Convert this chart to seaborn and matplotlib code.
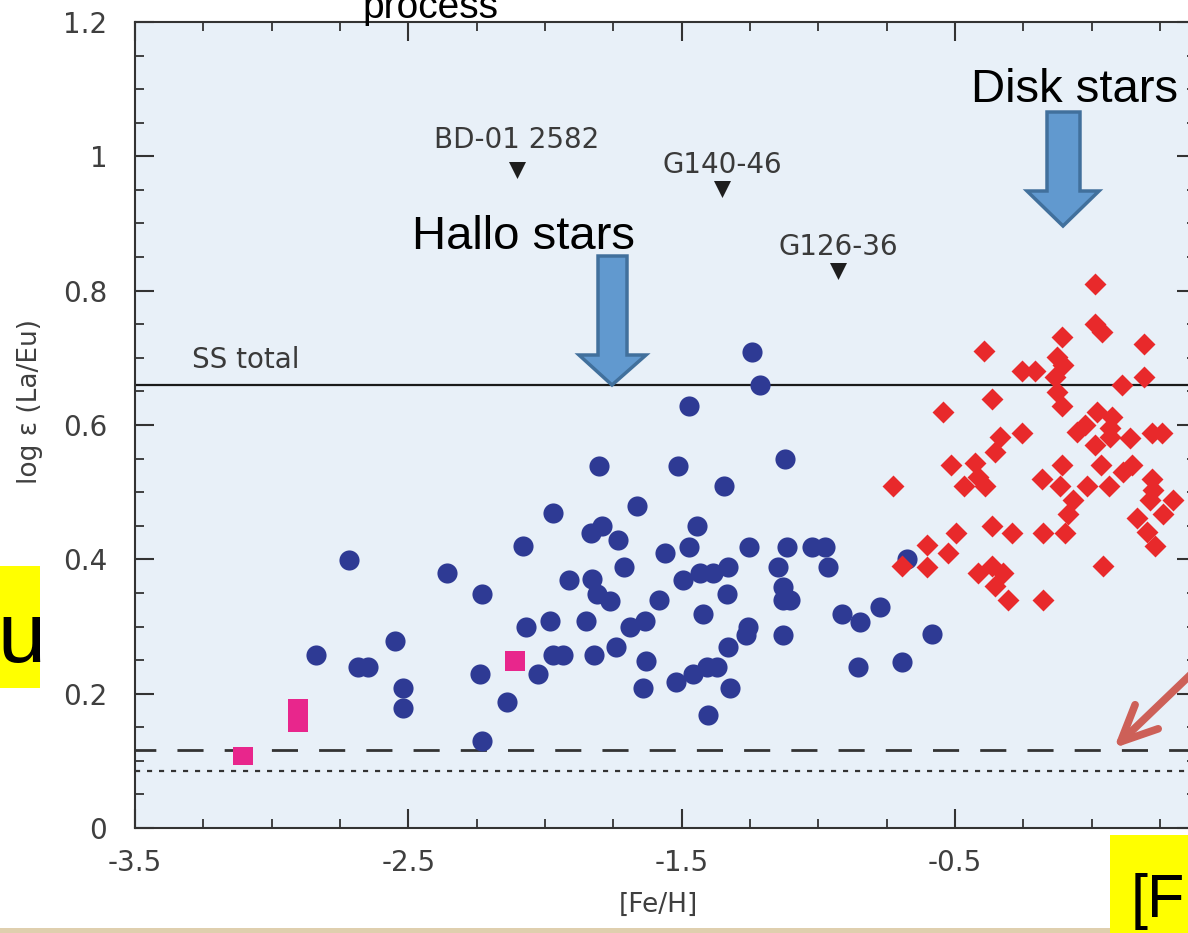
import numpy as np
import pandas as pd
import matplotlib
matplotlib.use("Agg")
import matplotlib.pyplot as plt
import seaborn as sns
from matplotlib.patches import Rectangle, Polygon, FancyArrowPatch
from matplotlib.ticker import MultipleLocator

# ---------------- data ----------------
halo_feh = [-2.716, -2.360, -2.229, -2.079, -2.070, -2.549, -2.838, -2.683, -2.646, -2.518,
            -2.518, -2.238, -2.140, -2.024, -2.229,
            -1.244, -1.213, -1.473, -1.801, -1.512, -1.122, -1.344, -1.969, -1.662, -1.792,
            -1.833, -1.732, -1.443, -1.561, -1.473, -1.252, -1.113,
            -1.711, -1.911, -1.829, -1.811, -1.762, -1.582, -1.494, -1.433, -1.384, -1.331,
            -1.333, -1.146, -1.128, -1.128, -1.104, -1.128, -1.423, -1.256, -1.264, -1.331,
            -1.982, -1.850, -1.634, -1.689, -1.969, -1.933, -1.819, -1.740, -1.631, -1.640,
            -1.521, -1.459, -1.408, -1.372, -1.323, -1.402,
            -1.024, -0.975, -0.963, -0.914, -0.847, -0.774, -0.853, -0.695, -0.585, -0.676]
halo_laeu = [0.399, 0.379, 0.348, 0.420, 0.299, 0.278, 0.258, 0.239, 0.239, 0.209,
             0.179, 0.229, 0.188, 0.229, 0.129,
             0.709, 0.659, 0.629, 0.539, 0.539, 0.550, 0.509, 0.469, 0.479, 0.449,
             0.439, 0.429, 0.449, 0.410, 0.419, 0.419, 0.419,
             0.389, 0.369, 0.370, 0.348, 0.338, 0.339, 0.369, 0.379, 0.379, 0.389,
             0.348, 0.389, 0.359, 0.339, 0.339, 0.287, 0.318, 0.300, 0.287, 0.269,
             0.308, 0.308, 0.308, 0.299, 0.258, 0.258, 0.258, 0.269, 0.249, 0.209,
             0.218, 0.230, 0.239, 0.239, 0.209, 0.168,
             0.419, 0.419, 0.389, 0.318, 0.307, 0.329, 0.239, 0.247, 0.289, 0.401]

disk_feh = [0.014, 0.014, 0.037, -0.107, 0.193, -0.392, -0.128, -0.104, -0.256, -0.207,
            -0.134, 0.193, 0.112, -0.128, -0.107, -0.363, -0.542, 0.021, 0.074, -0.024,
            -0.054, 0.067, 0.067, 0.141, 0.220, 0.256, 0.014, -0.256, -0.335, -0.353,
            -0.514, -0.427, -0.415, -0.466, -0.390, -0.725, -0.107, 0.033, -0.182, -0.115,
            -0.018, 0.065, 0.116, 0.147, 0.220, 0.226, 0.214, 0.299, 0.263, -0.067,
            -0.085, 0.165, 0.202, 0.232, -0.497, -0.363, -0.292, -0.177, -0.096, -0.603,
            -0.524, -0.603, -0.692, -0.415, -0.366, -0.323, -0.353, -0.305, -0.177, 0.043]
disk_laeu = [0.810, 0.751, 0.739, 0.731, 0.720, 0.710, 0.701, 0.689, 0.680, 0.680,
             0.671, 0.671, 0.659, 0.649, 0.629, 0.639, 0.620, 0.620, 0.612, 0.600,
             0.590, 0.595, 0.582, 0.580, 0.588, 0.588, 0.570, 0.588, 0.582, 0.560,
             0.540, 0.543, 0.523, 0.509, 0.509, 0.509, 0.540, 0.540, 0.520, 0.509,
             0.509, 0.509, 0.530, 0.540, 0.520, 0.503, 0.488, 0.489, 0.468, 0.489,
             0.468, 0.461, 0.441, 0.420, 0.439, 0.449, 0.439, 0.439, 0.439, 0.421,
             0.409, 0.389, 0.390, 0.380, 0.390, 0.380, 0.360, 0.339, 0.339, 0.390]

named_stars = ["BD-01 2582", "G140-46", "G126-36"]
named_feh = [-2.102, -1.352, -0.928]
named_laeu = [0.979, 0.952, 0.830]

pink_feh = [-3.105, -2.902, -2.110]
pink_low = [0.094, 0.143, 0.234]
pink_high = [0.121, 0.192, 0.264]

ss_total = 0.659
dashed_level = 0.116
dotted_level = 0.085

x_ticks = [-3.5, -2.5, -1.5, -0.5]
x_ticklabels = ["-3.5", "-2.5", "-1.5", "-0.5"]
y_ticks = [0, 0.2, 0.4, 0.6, 0.8, 1.0, 1.2]
y_ticklabels = ["0", "0.2", "0.4", "0.6", "0.8", "1", "1.2"]

# ---------------- style ----------------
sns.set_theme(style="ticks")
plt.rcParams["font.family"] = ["DejaVu Sans"]

W, H = 1188, 933
fig = plt.figure(figsize=(W / 100, H / 100), dpi=100)
fig.patch.set_facecolor("white")


def fx(px):
    return px / W


def fy(py):
    return 1 - py / H


ax = fig.add_axes([fx(135), fy(828), (1196 - 135) / W, (828 - 22) / H])
ax.set_facecolor("#e8f0f8")

halo_df = pd.DataFrame({"feh": halo_feh, "laeu": halo_laeu})
disk_df = pd.DataFrame({"feh": disk_feh, "laeu": disk_laeu})
named_df = pd.DataFrame({"feh": named_feh, "laeu": named_laeu, "name": named_stars})

# reference lines
ax.axhline(ss_total, color="#1a1a1a", lw=1.6, zorder=2)
ax.axhline(dashed_level, color="#333333", lw=2.0, linestyle=(1.9, (9.4, 7.6)), zorder=2)
ax.axhline(dotted_level, color="#333333", lw=1.6, linestyle=(0, (2.3, 3.1)), zorder=2)

sns.scatterplot(data=halo_df, x="feh", y="laeu", ax=ax, marker="o", s=210,
                color="#2e3a94", linewidth=0, zorder=3, legend=False)
sns.scatterplot(data=disk_df, x="feh", y="laeu", ax=ax, marker="D", s=125,
                color="#e8292b", linewidth=0, zorder=4, legend=False)
sns.scatterplot(data=named_df, x="feh", y="laeu", ax=ax, marker="v", s=150,
                color="#1e1e1e", linewidth=0, zorder=4, legend=False)

pink_height = [h - l for h, l in zip(pink_high, pink_low)]
ax.bar(pink_feh, pink_height, bottom=pink_low, width=0.073, color="#e8268c",
       linewidth=0, zorder=4)

label_offsets = {"BD-01 2582": 22, "G140-46": 16, "G126-36": 16}
for name, xv, yv in zip(named_stars, named_feh, named_laeu):
    ax.annotate(name, (xv, yv), xytext=(0, label_offsets[name]),
                textcoords="offset pixels", ha="center", va="baseline",
                fontsize=20, color="#3a3a3a")

ax.text(-3.291, 0.685, "SS total", fontsize=20, color="#3a3a3a", va="baseline", ha="left")

ax.set_xlim(-3.5, 0.382)
ax.set_ylim(0, 1.2)
ax.set_xticks(x_ticks, labels=x_ticklabels)
ax.set_yticks(y_ticks, labels=y_ticklabels)
ax.xaxis.set_minor_locator(MultipleLocator(0.25))
ax.yaxis.set_minor_locator(MultipleLocator(0.05))
ax.tick_params(which="major", direction="in", length=14, width=1.5, top=True, right=True,
               color="#333333", labelcolor="#3f3f3f", labelsize=20)
ax.tick_params(axis="x", which="major", pad=15)
ax.tick_params(axis="y", which="major", pad=20)
ax.tick_params(which="minor", direction="in", length=6.5, width=1.3, top=True, right=True,
               color="#333333")
for sp in ax.spines.values():
    sp.set_color("#333333")
    sp.set_linewidth(1.5)

ax.set_xlabel("[Fe/H]", fontsize=19, color="#3f3f3f", va="center")
ax.set_ylabel("log ε (La/Eu)", fontsize=19, color="#3f3f3f", va="center")
ax.xaxis.set_label_coords((658 - 135) / 1061, -(905 - 828) / 806)
ax.yaxis.set_label_coords((30 - 135) / 1061, (828 - 402) / 806)

# ---------------- slide overlays ----------------
arrow_face = "#6199cf"
arrow_edge = "#41709c"


def block_arrow(x0, x1, top, head_y, hx0, hx1, tip):
    pts = [(x0, top), (x1, top), (x1, head_y), (hx1, head_y), (tip[0], tip[1]),
           (hx0, head_y), (x0, head_y)]
    poly = Polygon([(fx(a), fy(b)) for a, b in pts], closed=True, transform=fig.transFigure,
                   facecolor=arrow_face, edgecolor=arrow_edge, lw=2.5, zorder=10)
    fig.add_artist(poly)


block_arrow(598, 627, 256, 355, 579, 646, (612, 385))
block_arrow(1047, 1080, 112, 191, 1027, 1099, (1063, 226))

fig.text(fx(523), fy(237), "Hallo stars", fontsize=34, family="Liberation Sans",
         ha="center", va="center", color="black", zorder=11)
fig.text(fx(1075), fy(90), "Disk stars", fontsize=34, family="Liberation Sans",
         ha="center", va="center", color="black", zorder=11)
fig.text(fx(362), fy(18), "process", fontsize=28, family="Liberation Sans",
         ha="left", va="baseline", color="black", zorder=11)

red_arrow = FancyArrowPatch((fx(1210), fy(656)), (fx(1112), fy(750)),
                            transform=fig.transFigure,
                            arrowstyle="->,head_length=1.3,head_width=0.6",
                            mutation_scale=20, lw=5.5, color="#cd6058",
                            capstyle="round", joinstyle="round", zorder=11)
fig.add_artist(red_arrow)

# bottom slide strip
fig.add_artist(Rectangle((0, 0), 1, (933 - 928) / H, transform=fig.transFigure,
                         facecolor="#dfcfae", edgecolor="none", zorder=12))
# yellow highlight boxes
fig.add_artist(Rectangle((fx(0), fy(688)), fx(40), (688 - 566) / H, transform=fig.transFigure,
                         facecolor="#ffff00", edgecolor="none", zorder=12))
fig.add_artist(Rectangle((fx(1110), fy(933)), fx(78), (933 - 835) / H,
                         transform=fig.transFigure, facecolor="#ffff00", edgecolor="none",
                         zorder=12))
fig.text(fx(45), fy(662), "u", fontsize=62, family="Liberation Sans", ha="right",
         va="baseline", color="black", zorder=13)
fig.text(fx(1131), fy(917), "[F", fontsize=44, family="Liberation Sans", ha="left",
         va="baseline", color="black", zorder=13)

fig.savefig("out.png", dpi=100, facecolor=fig.get_facecolor())
